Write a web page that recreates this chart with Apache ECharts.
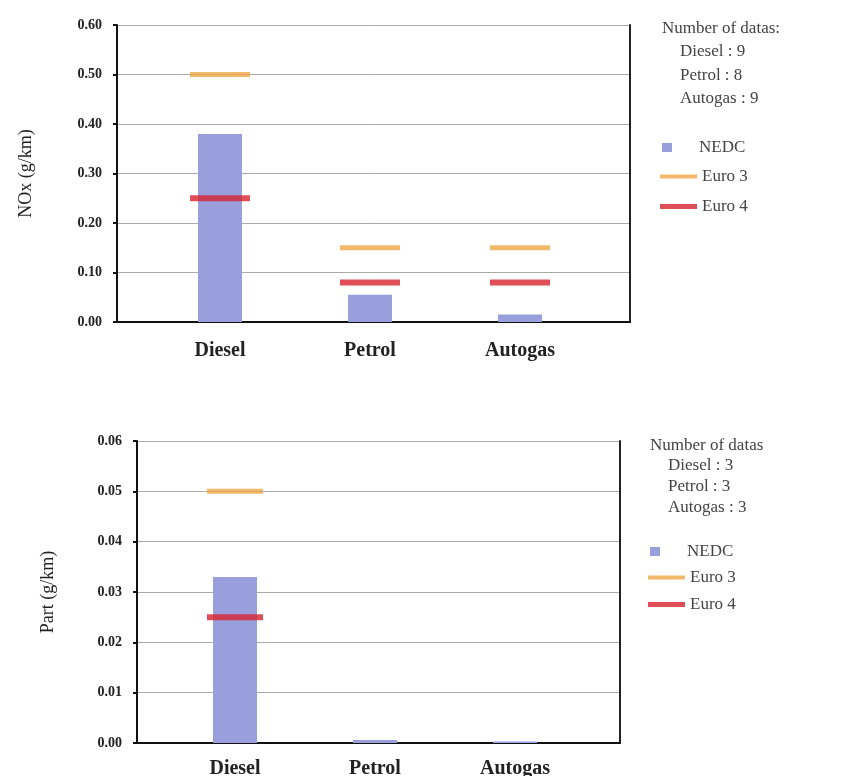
<!DOCTYPE html>
<html><head><meta charset="utf-8">
<script src="https://cdn.jsdelivr.net/npm/echarts@6/dist/echarts.min.js"></script>
<style>html,body{margin:0;padding:0;background:#fff}#c{width:860px;height:776px}</style>
</head><body><div id="c"></div>
<script>
const categories = ['Diesel', 'Petrol', 'Autogas'];
// NOx chart (g/km)
const noxNEDC = [0.38, 0.055, 0.015];
const noxEuro3 = [0.50, 0.15, 0.15];
const noxEuro4 = [0.25, 0.08, 0.08];
const noxTicks = [0, 0.1, 0.2, 0.3, 0.4, 0.5, 0.6];
const noxCounts = [9, 8, 9];
// Particulate chart (g/km)
const partNEDC = [0.033, 0.0006, 0.0003];
const partEuro3 = [0.05, null, null];
const partEuro4 = [0.025, null, null];
const partTicks = [0, 0.01, 0.02, 0.03, 0.04, 0.05, 0.06];
const partCounts = [3, 3, 3];

const C_BAR = '#989fdc', C_E3 = '#efa848', C_E4 = '#d8222e';
const serif = '"Liberation Serif", "DejaVu Serif", serif';

function pts(arr) { return arr.map((v, i) => [i, v]); }

function xAxisCfg(gi, min, max, margin) {
  return {
    gridIndex: gi, type: 'value', min: min, max: max,
    axisLine: { show: true, onZero: false, lineStyle: { color: '#111', width: 2 } },
    axisTick: { show: false },
    splitLine: { show: false },
    axisLabel: {
      customValues: [0, 1, 2],
      formatter: v => categories[Math.round(v)] || '',
      fontFamily: serif, fontWeight: 'bold', fontSize: 20, color: '#222', margin: margin
    }
  };
}
function yAxisCfg(gi, max, name, gap) {
  return {
    gridIndex: gi, type: 'value', min: 0, max: max, interval: max / 6,
    name: name, nameLocation: 'middle', nameGap: gap,
    nameTextStyle: { fontFamily: serif, fontSize: 18, color: '#222' },
    axisLine: { show: true, onZero: false, lineStyle: { color: '#111', width: 2 } },
    axisTick: { show: true, inside: false, length: 4, lineStyle: { color: '#111', width: 2 } },
    splitLine: { show: true, lineStyle: { color: '#aaa', width: 1 } },
    axisLabel: {
      formatter: v => v.toFixed(2), fontFamily: serif, fontWeight: 'bold',
      fontSize: 14, color: '#222', margin: 15
    }
  };
}
function rightAxis(gi, max) {
  return {
    gridIndex: gi, type: 'value', min: 0, max: max, position: 'right',
    axisLine: { show: true, onZero: false, lineStyle: { color: '#222', width: 2 } },
    axisTick: { show: false }, axisLabel: { show: false }, splitLine: { show: false }
  };
}
function series(gi, yi, nedc, e3, e4, lw) {
  return [
    { name: 'NEDC', type: 'bar', xAxisIndex: gi, yAxisIndex: yi, data: pts(nedc),
      barWidth: 44, itemStyle: { color: C_BAR }, z: 2 },
    { name: 'Euro 3', type: 'scatter', xAxisIndex: gi, yAxisIndex: yi, data: pts(e3),
      symbol: 'rect', symbolSize: [lw, 5], itemStyle: { color: C_E3 }, z: 3 },
    { name: 'Euro 4', type: 'scatter', xAxisIndex: gi, yAxisIndex: yi, data: pts(e4),
      symbol: 'rect', symbolSize: [lw, 6], itemStyle: { color: C_E4 }, z: 3 }
  ];
}
function legendItem(name, left, cy, w, h, pad) {
  return {
    left: left, top: cy - 10, data: [name], icon: 'rect', itemWidth: w, itemHeight: h,
    selectedMode: false, padding: 0,
    textStyle: { fontFamily: serif, fontSize: 17, color: '#444', padding: [0, 0, 0, pad] }
  };
}
function txt(x, y, s) {
  return { type: 'text', left: x, top: y - 10,
    style: { text: s, fontFamily: serif, fontSize: 17, fill: '#444' } };
}

const chart = echarts.init(document.getElementById('c'), null, { renderer: 'canvas' });
chart.setOption({
  animation: false,
  grid: [
    { left: 117, top: 25, width: 513, height: 297, outerBoundsMode: 'none', containLabel: false },
    { left: 137, top: 441, width: 483, height: 302, outerBoundsMode: 'none', containLabel: false }
  ],
  xAxis: [xAxisCfg(0, -0.6867, 2.7333, 19), xAxisCfg(1, -0.7, 2.75, 16)],
  yAxis: [
    yAxisCfg(0, noxTicks[noxTicks.length - 1], 'NOx (g/km)', 82),
    yAxisCfg(1, partTicks[partTicks.length - 1], 'Part (g/km)', 80),
    rightAxis(0, noxTicks[noxTicks.length - 1]),
    rightAxis(1, partTicks[partTicks.length - 1])
  ],
  legend: [
    legendItem('NEDC', 662, 149, 10, 9, 22),
    legendItem('Euro 3', 660, 178, 37, 4, 0),
    legendItem('Euro 4', 660, 208, 37, 5, 0),
    legendItem('NEDC', 650, 553, 10, 9, 22),
    legendItem('Euro 3', 648, 579, 37, 4, 0),
    legendItem('Euro 4', 648, 606, 37, 5, 0)
  ],
  graphic: [
    txt(662, 30, 'Number of datas:'),
    txt(680, 53, categories[0] + ' : ' + noxCounts[0]),
    txt(680, 77, categories[1] + ' : ' + noxCounts[1]),
    txt(680, 100, categories[2] + ' : ' + noxCounts[2]),
    txt(650, 447, 'Number of datas'),
    txt(668, 467, categories[0] + ' : ' + partCounts[0]),
    txt(668, 488, categories[1] + ' : ' + partCounts[1]),
    txt(668, 509, categories[2] + ' : ' + partCounts[2])
  ],
  series: [].concat(
    series(0, 0, noxNEDC, noxEuro3, noxEuro4, 60),
    series(1, 1, partNEDC, partEuro3, partEuro4, 56)
  )
});
</script></body></html>
